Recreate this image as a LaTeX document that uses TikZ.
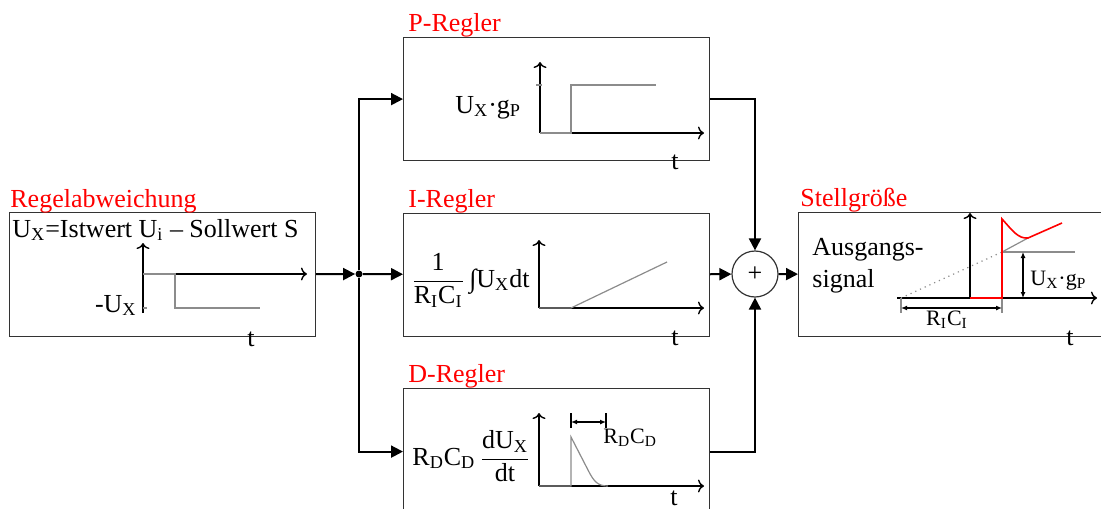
\documentclass[tikz,border=0pt]{standalone}
\usepackage{fontspec}
\setmainfont{Liberation Serif}
\usetikzlibrary{arrows.meta, positioning}

\begin{document}
\begin{tikzpicture}[x=0.5pt, y=-0.5pt,
    box/.style={rectangle, draw=black!80, line width=0.6pt, anchor=north west, minimum width=153pt, minimum height=61.5pt, inner sep=0pt},
    title/.style={anchor=base west, inner sep=0pt, text=red, font=\fontsize{13}{15}\selectfont},
    lab/.style={anchor=base west, inner sep=0pt, font=\fontsize{13}{15}\selectfont},
    small/.style={anchor=base west, inner sep=0pt, font=\fontsize{11}{13}\selectfont},
    flow/.style={line width=1pt, -{Triangle[length=6pt, width=6pt]}},
    axis/.style={line width=0.7pt, -{To[length=3pt, width=6.5pt]}},
    sig/.style={line width=0.6pt, black!45},
    dim/.style={line width=0.6pt, {Latex[length=3pt, width=2.5pt]}-{Latex[length=3pt, width=2.5pt]}}]

    \useasboundingbox (0,0) rectangle (1101,508);

    % boxes
    \node[box, minimum height=62pt] (regel) at (9,212) {};
    \node[box] (preg) at (403,37) {};
    \node[box] (ireg) at (403,213) {};
    \node[box, minimum height=63pt] (dreg) at (403,388) {};
    \node[box, minimum width=170pt, minimum height=62pt] (stell) at (798,212) {};
    \node[circle, draw=black!80, line width=0.6pt, minimum size=23pt, inner sep=0pt, font=\fontsize{13}{15}\selectfont] (sum) at (755,274) {+};
    \node[circle, fill, inner sep=0pt, minimum size=3.5pt] (jct) at (359,274) {};

    % titles
    \node[title] (tregel) at (10,207) {Regelabweichung};
    \node[title] (tp) at (408,32) {P-Regler};
    \node[title] (ti) at (408,207) {I-Regler};
    \node[title] (td) at (408,382) {D-Regler};
    \node[title] (tstell) at (800,206) {Stellgröße};

    % Regelabweichung
    \node[lab] (ux) at (12,237) {U\textsubscript{X}=Istwert U\textsubscript{i} – Sollwert S};
    \draw[axis] (143,313) -- (143,243);
    \draw[axis] (143,274) -- (307,274);
    \draw[sig] (143,274) -- (175,274) -- (175,308) -- (260,308);
    \draw[sig] (143,308) -- (147,308);
    \node[lab, anchor=base east] (mux) at (137,312) {-U\textsubscript{X}};
    \node[lab] (tr) at (247,346) {t};

    % P-Regler
    \node[lab] (upg) at (455,113) {U\textsubscript{X}·g\textsubscript{P}};
    \draw[axis] (540,133) -- (540,62);
    \draw[axis] (540,133) -- (704,133);
    \draw[sig] (540,133) -- (571,133) -- (571,85) -- (656,85);
    \draw[sig] (536,85) -- (542,85);
    \node[lab] (tp1) at (671,169) {t};

    % I-Regler
    \node[lab] (iform) at (411,287) {$\displaystyle\frac{\mbox{1}}{\mbox{R\textsubscript{I}C\textsubscript{I}}}$\,∫U\textsubscript{X}dt};
    \draw[axis] (539,308) -- (539,240);
    \draw[axis] (539,308) -- (704,308);
    \draw[sig] (539,308) -- (571,308) -- (667,262);
    \node[lab] (ti1) at (671,345) {t};

    % D-Regler
    \node[lab] (dform) at (412,465) {R\textsubscript{D}C\textsubscript{D}\,$\displaystyle\frac{\mbox{dU\textsubscript{X}}}{\mbox{dt}}$};
    \draw[axis] (539,486) -- (539,413);
    \draw[axis] (539,486) -- (704,486);
    \draw[sig] (539,486) -- (571,486) -- (571,437) -- (588,470) .. controls (594,482) and (598,486) .. (608,486);
    \draw[line width=0.6pt] (571,413) -- (571,428);
    \draw[line width=0.6pt] (606,413) -- (606,428);
    \draw[dim] (571,422) -- (606,422);
    \node[small] (rdcd) at (603,443) {R\textsubscript{D}C\textsubscript{D}};
    \node[lab] (td1) at (670,505) {t};

    % Stellgroesse
    \node[lab, align=left, anchor=west, font=\fontsize{13}{16}\selectfont] (aus) at (812,266) {Ausgangs-\\signal};
    \draw[axis] (970,298) -- (970,213);
    \draw[axis] (897,298) -- (1097,298);
    \draw[sig] (901,298) -- (901,313);
    \draw[sig] (1002,298) -- (1002,313);
    \draw[sig, dotted] (901,298) -- (1002,252);
    \draw[sig] (1002,252) -- (1028,238);
    \draw[sig] (1002,252) -- (1075,252);
    \draw[red, line width=0.8pt] (970,298) -- (1002,298) -- (1002,219) .. controls (1012,230) and (1018,239) .. (1028,238) -- (1062,223);
    \draw[dim, line width=1pt] (901,308) -- (1002,308);
    \draw[dim] (1023,252) -- (1023,298);
    \node[small, anchor=base] (rici) at (947,325) {R\textsubscript{I}C\textsubscript{I}};
    \node[small] (uxgp) at (1030,285) {U\textsubscript{X}·g\textsubscript{P}};
    \node[lab] (ts) at (1066,345) {t};

    % connectors
    \draw[flow] (regel) -- (jct);
    \draw[flow] (jct) |- (preg);
    \draw[flow] (jct) -- (ireg);
    \draw[flow] (jct) |- (dreg);
    \draw[flow] (preg) -| (sum);
    \draw[flow] (ireg) -- (sum);
    \draw[flow] (dreg) -| (sum);
    \draw[flow] (sum) -- (stell);

\end{tikzpicture}
\end{document}
